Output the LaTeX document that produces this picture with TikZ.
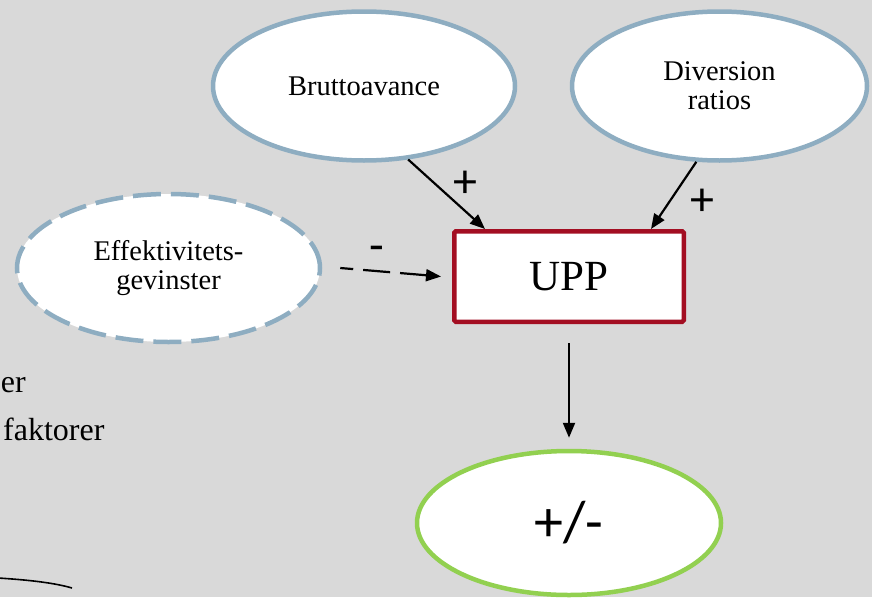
\documentclass[tikz,border=0pt]{standalone}
\usepackage{fontspec}
\setmainfont{Liberation Serif}
\newfontfamily\signfont{Carlito}
\usetikzlibrary{shapes.geometric,arrows.meta}
\definecolor{bg}{HTML}{D9D9D9}
\definecolor{ringblue}{HTML}{8EADC1}
\definecolor{uppred}{HTML}{A30E22}
\definecolor{outgreen}{HTML}{92D050}
\begin{document}
\begin{tikzpicture}[x=1pt,y=-1pt,
  factor/.style={ellipse, draw=ringblue, line width=4.5pt, fill=white,
    inner sep=0pt, align=center, font=\fontsize{28.5}{29}\selectfont},
  link/.style={line width=2.2pt, -{Triangle[length=15pt,width=12pt]}},
  sign/.style={font=\signfont\fontsize{48}{48}\selectfont, inner sep=0pt},
  sidetext/.style={font=\fontsize{32}{34}\selectfont, inner sep=0pt}]
\fill[bg] (0,0) rectangle (872,597);
\useasboundingbox (0,0) rectangle (872,597);

% drivers
\node[factor, minimum width=302pt, minimum height=149pt] (brutto) at (364,86) {Bruttoavance};
\node[factor, minimum width=295pt, minimum height=149pt] (divers) at (719.5,86) {Diversion\\ratios};
\node[factor, dash pattern=on 28pt off 10pt, minimum width=303pt, minimum height=148pt]
  (effekt) at (168.5,268) {Effektivitets-\\gevinster};

% price pressure and its outcome
\node[draw=uppred, line width=4.5pt, fill=white, rounded corners=1.5pt,
  minimum width=229.5pt, minimum height=90.5pt, inner sep=0pt,
  font=\fontsize{43}{43}\selectfont] (upp) at (569,276.5) {UPP};
\node[ellipse, draw=outgreen, line width=4.5pt, fill=white, inner sep=0pt,
  minimum width=304pt, minimum height=144pt,
  font=\signfont\fontsize{58}{58}\selectfont] (out) at (569,523) {+/-};

% effects
\draw[link] (brutto.-59) -- ([xshift=-84pt]upp.north);
\draw[link] (divers.-107) -- ([xshift=82pt]upp.north);
\draw[link, dash pattern=on 27pt off 10pt, dash phase=14pt]
  ([xshift=18pt]effekt.east) -- ([xshift=-11pt]upp.west);
\draw[link] ([yshift=-19pt]upp.south) -- ([yshift=11pt]out.north);

\node[sign] (p1) at (465,184) {+};
\node[sign] (p2) at (702,202) {+};
\node[sign] (m1) at (377,254) {-};

% text and line at the left edge
\node[sidetext, anchor=base east] (t1) at (26,392) {er};
\node[sidetext, anchor=base west] (t2) at (3,440) {faktorer};
\draw[line width=1.6pt] (-2,578) .. controls (30,580) and (55,583) .. (72,588);
\end{tikzpicture}
\end{document}
